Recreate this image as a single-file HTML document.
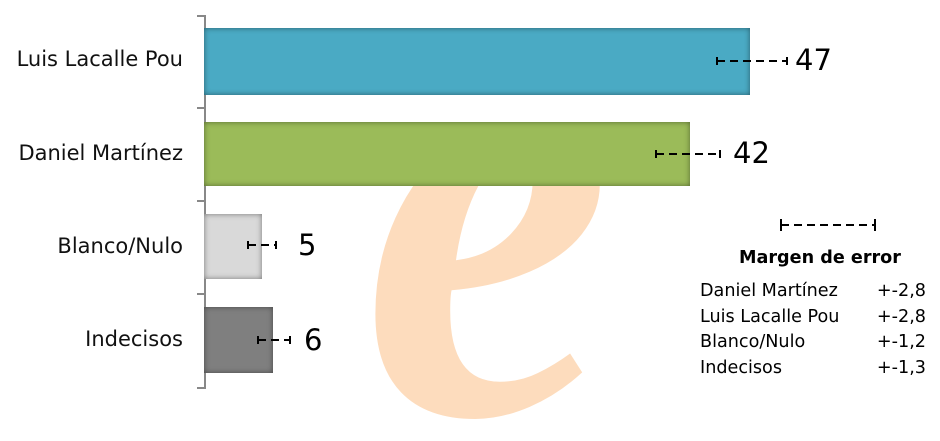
<!DOCTYPE html>
<html><head><meta charset="utf-8"><style>
html,body{margin:0;width:940px;height:441px;background:#fff;overflow:hidden}
body{position:relative;font-family:"DejaVu Sans","Liberation Sans",sans-serif;}
.a{position:absolute}
.lab{position:absolute;right:757px;font-size:21px;color:#111;white-space:nowrap}
.bar{position:absolute;left:204px;box-shadow:inset 0 0 6px rgba(0,0,0,.45)}
.num{position:absolute;font-size:29px;color:#000}
.leg{position:absolute;font-size:17.6px;color:#000;white-space:nowrap}
</style></head><body>
<div class="a" style="left:0;top:0;width:940px;height:441px;overflow:hidden">
<div class="a" style="left:355px;top:40px;height:390px;font-family:'Liberation Serif',serif;font-style:italic;font-weight:bold;font-size:440px;line-height:440px;color:#fddcbd;transform-origin:10px 382px;transform:translate(10px,12px) scale(1.28,1.4);">e</div>
</div>
<div class="a" style="left:204px;top:15px;width:2px;height:374px;background:#888"></div>
<div class="a" style="left:197px;top:15px;width:8px;height:2px;background:#888"></div>
<div class="a" style="left:197px;top:107px;width:8px;height:2px;background:#888"></div>
<div class="a" style="left:197px;top:200px;width:8px;height:2px;background:#888"></div>
<div class="a" style="left:197px;top:293px;width:8px;height:2px;background:#888"></div>
<div class="a" style="left:197px;top:387px;width:8px;height:2px;background:#888"></div>
<div class="lab" style="top:47px">Luis Lacalle Pou</div>
<div class="lab" style="top:141px">Daniel Martínez</div>
<div class="lab" style="top:234px">Blanco/Nulo</div>
<div class="lab" style="top:327px">Indecisos</div>
<div class="bar" style="top:28px;width:546px;height:67px;background:#4aaac4"></div>
<div class="bar" style="top:122px;width:486px;height:64px;background:#9bbb59"></div>
<div class="bar" style="top:214px;width:58px;height:65px;background:#d9d9d9"></div>
<div class="bar" style="top:307px;width:69px;height:66px;background:#7f7f7f"></div>
<svg class="a" style="left:0;top:0" width="940" height="441">
<g stroke="#000" stroke-width="2" stroke-dasharray="8,5" fill="none">
<line x1="717" y1="61" x2="787" y2="61"/>
<line x1="656" y1="154" x2="720" y2="154"/>
<line x1="248" y1="245" x2="276" y2="245"/>
<line x1="258" y1="340" x2="290" y2="340"/>
<line x1="781" y1="225" x2="875" y2="225"/>
</g>
<g stroke="#000" stroke-width="2">
<line x1="717" y1="57" x2="717" y2="65"/><line x1="787" y1="57" x2="787" y2="65"/>
<line x1="656" y1="150" x2="656" y2="158"/><line x1="720" y1="150" x2="720" y2="158"/>
<line x1="248" y1="241" x2="248" y2="249"/><line x1="276" y1="241" x2="276" y2="249"/>
<line x1="258" y1="336" x2="258" y2="344"/><line x1="290" y1="336" x2="290" y2="344"/>
<line x1="781" y1="219" x2="781" y2="231"/><line x1="875" y1="219" x2="875" y2="231"/>
</g></svg>
<div class="num" style="left:795px;top:43px">47</div>
<div class="num" style="left:733px;top:136px">42</div>
<div class="num" style="left:298px;top:228px">5</div>
<div class="num" style="left:304px;top:323px">6</div>
<div class="leg" style="left:739px;top:248px;font-weight:bold">Margen de error</div>
<div class="leg" style="left:700px;top:281px">Daniel Martínez</div><div class="leg" style="right:14px;top:281px">+-2,8</div>
<div class="leg" style="left:700px;top:307px">Luis Lacalle Pou</div><div class="leg" style="right:14px;top:307px">+-2,8</div>
<div class="leg" style="left:700px;top:332px">Blanco/Nulo</div><div class="leg" style="right:14px;top:332px">+-1,2</div>
<div class="leg" style="left:700px;top:358px">Indecisos</div><div class="leg" style="right:14px;top:358px">+-1,3</div>
</body></html>
